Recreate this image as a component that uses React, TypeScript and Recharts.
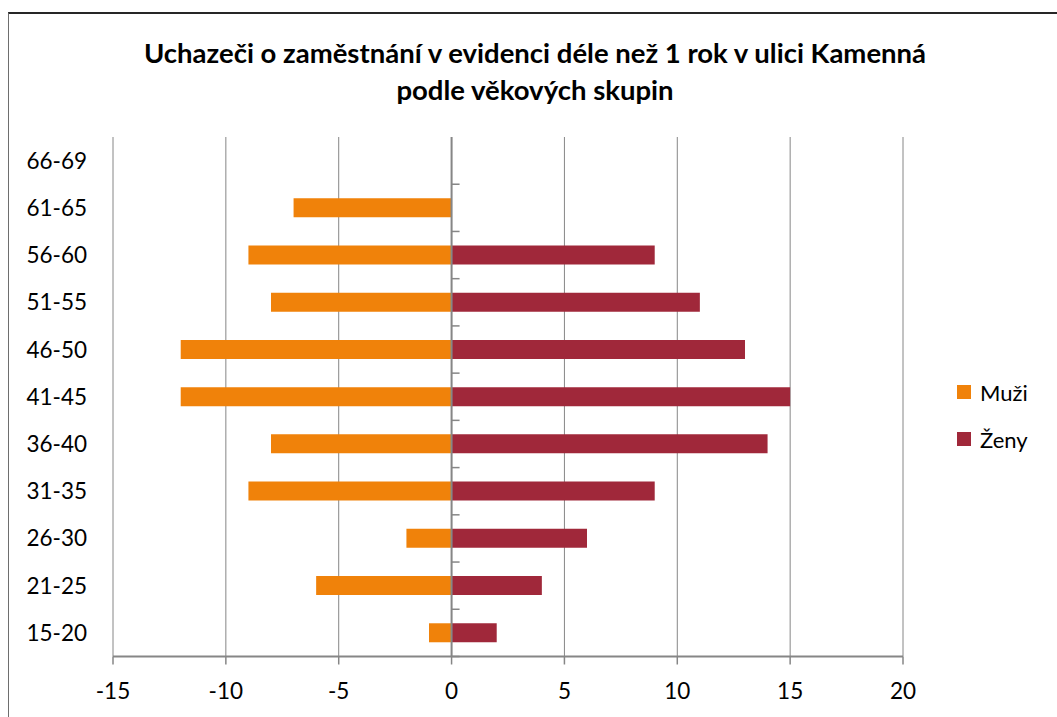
import React from 'react';
import { BarChart, Bar, XAxis, YAxis, CartesianGrid, ReferenceLine, Legend } from 'recharts';

const ages = ['66-69', '61-65', '56-60', '51-55', '46-50', '41-45', '36-40', '31-35', '26-30', '21-25', '15-20'];
const muzi = [0, -7, -9, -8, -12, -12, -8, -9, -2, -6, -1];
const zeny = [0, 0, 9, 11, 13, 15, 14, 9, 6, 4, 2];
const xTicks = [-15, -10, -5, 0, 5, 10, 15, 20];
const titleLines = ['Uchazeči o zaměstnání v evidenci déle než 1 rok v ulici Kamenná', 'podle věkových skupin'];
const seriesNames = { muzi: 'Muži', zeny: 'Ženy' };

const data = ages.map((a, i) => ({ age: a, muzi: muzi[i], zeny: zeny[i] }));

const FONT = 'Lato, "Open Sans", sans-serif';
const GRID = '#868686';
const ORANGE = '#F0820A';
const MAROON = '#A0283A';

const W = 1048;
const H = 703;

const ZeroAxis = (props: any) => {
  const { x1, y1, x2, y2 } = props;
  const n = ages.length;
  const step = (y2 - y1) / n;
  const ticks = [];
  for (let i = 0; i < n; i++) {
    const y = y1 + i * step;
    ticks.push(<line key={i} x1={x1} x2={x1 + 8} y1={y} y2={y} stroke={GRID} strokeWidth={1.5} />);
  }
  return (
    <g>
      <line x1={x1} x2={x2} y1={y1} y2={y2} stroke={GRID} strokeWidth={2} />
      {ticks}
    </g>
  );
};

const renderLegend = (props: any) => {
  const { payload } = props;
  return (
    <div style={{ fontFamily: FONT, fontSize: 22, color: '#000' }}>
      {(payload || []).map((p: any, i: number) => (
        <div key={i} style={{ display: 'flex', alignItems: 'center', height: 24, marginBottom: 23 }}>
          <span style={{ display: 'inline-block', width: 14, height: 14, background: p.color, marginRight: 9 }} />
          <span>{p.value}</span>
        </div>
      ))}
    </div>
  );
};

export default function App() {
  return (
    <div
      style={{
        position: 'absolute',
        left: 8,
        top: 12,
        width: 1049,
        height: 705,
        borderTop: '2px solid #262626',
        borderLeft: '1px solid #6e6e6e',
        background: '#fff',
        boxSizing: 'border-box',
        overflow: 'hidden',
      }}
    >
      <BarChart
        width={W}
        height={H}
        data={data}
        layout="vertical"
        stackOffset="sign"
        barSize={19}
        margin={{ top: 123, right: 64, bottom: 10.5, left: 0 }}
      >
        <text x={526} y={48.5} textAnchor="middle" fontFamily={FONT} fontWeight={700} fontSize={27.5} fill="#000">
          {titleLines[0]}
        </text>
        <text x={526} y={85.5} textAnchor="middle" fontFamily={FONT} fontWeight={700} fontSize={27.5} fill="#000">
          {titleLines[1]}
        </text>
        <CartesianGrid horizontal={false} vertical stroke={GRID} strokeWidth={1} />
        <XAxis
          type="number"
          domain={[-15, 20]}
          ticks={xTicks}
          interval={0}
          height={50}
          axisLine={{ stroke: GRID, strokeWidth: 2 }}
          tickLine={{ stroke: GRID, strokeWidth: 1.5 }}
          tickSize={8}
          tickMargin={19}
          tick={{ fill: '#000', fontFamily: FONT, fontSize: 22.5 }}
        />
        <YAxis
          type="category"
          dataKey="age"
          width={104}
          axisLine={false}
          tickLine={false}
          tickSize={0}
          tickMargin={26}
          interval={0}
          tick={{ fill: '#000', fontFamily: FONT, fontSize: 22.5 }}
        />
        <Bar dataKey="muzi" name={seriesNames.muzi} stackId="a" fill={ORANGE} isAnimationActive={false} />
        <Bar dataKey="zeny" name={seriesNames.zeny} stackId="a" fill={MAROON} isAnimationActive={false} />
        <ReferenceLine x={0} shape={ZeroAxis} />
        <Legend
          layout="vertical"
          align="right"
          verticalAlign="middle"
          width={90}
          wrapperStyle={{ left: 948, top: 366, width: 90 }}
          content={renderLegend}
        />
      </BarChart>
    </div>
  );
}
